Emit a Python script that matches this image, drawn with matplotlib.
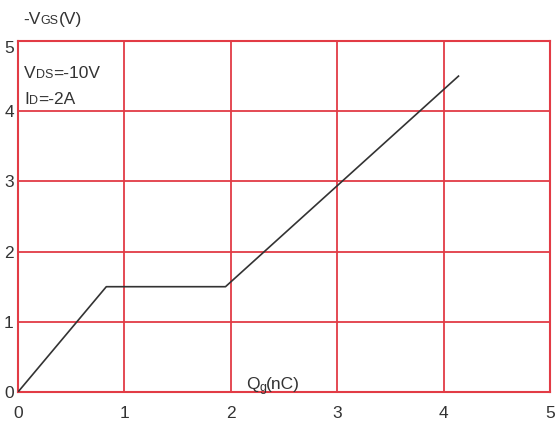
import matplotlib
matplotlib.use("Agg")
import matplotlib.pyplot as plt

qg = [0, 0.83, 1.95, 4.14]
vgs = [0, 1.5, 1.5, 4.5]
xticks = [0, 1, 2, 3, 4, 5]
yticks = [0, 1, 2, 3, 4, 5]

red = "#e23b45"
txt = "#333333"
plt.rcParams['font.family'] = ['Liberation Sans', 'DejaVu Sans']

fig = plt.figure(figsize=(5.57, 4.21), dpi=100)
ax = fig.add_axes([18/557, 29/421, 532/557, 351/421])
ax.set_xlim(0, 5)
ax.set_ylim(0, 5)
ax.set_xticks(xticks)
ax.set_yticks(yticks)
ax.grid(True, color=red, linewidth=1.3)
for s in ax.spines.values():
    s.set_color(red)
    s.set_linewidth(1.5)
ax.tick_params(length=0, labelsize=12.5, labelcolor=txt)
ax.tick_params(axis='x', pad=10)
ax.tick_params(axis='y', pad=3)
ax.plot(qg, vgs, color="#333333", linewidth=1.2, zorder=3)
ylabs = ax.get_yticklabels()
ylabs[-1].set_va('top')

fig.canvas.draw()
r = fig.canvas.get_renderer()

def pieces(x, y, parts, ha='left'):
    objs = []
    cx = x
    for t, size, dy in parts:
        o = fig.text(cx/557, 1 - (y + dy)/421, t, fontsize=size, color=txt,
                     va='baseline', ha='left')
        bb = o.get_window_extent(r)
        cx += bb.width
        objs.append(o)
    if ha == 'center':
        shift = (cx - x) / 2
        for o in objs:
            px, py = o.get_position()
            o.set_position((px - shift/557, py))

pieces(23, 24, [("-V", 12.5, 0), ("GS", 9, 0), ("(V)", 12.5, 0)])
pieces(24, 78, [("V", 12.5, 0), ("DS", 9, 0), ("=-10V", 12.5, 0)])
pieces(24, 104, [("I", 12.5, 0), ("D", 9, 0), ("=-2A", 12.5, 0)])
pieces(273, 389, [("Q", 12.5, 0), ("g", 9, 2), ("(nC)", 12.5, 0)], ha='center')

fig.savefig("out.png", dpi=100, facecolor="white")
